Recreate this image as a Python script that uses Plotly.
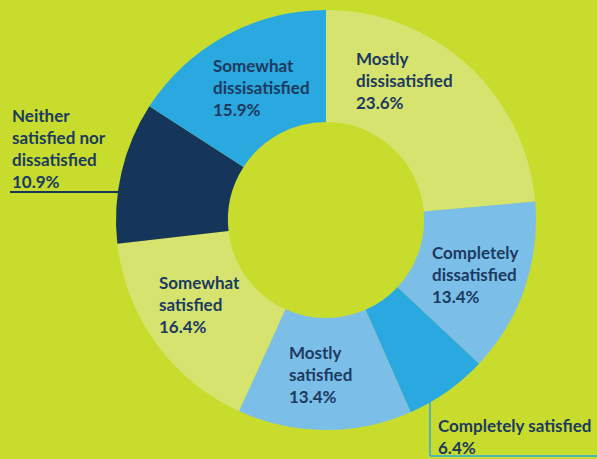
import plotly.graph_objects as go

# ---- data ----
categories = [
    "Mostly dissisatisfied",
    "Completely dissatisfied",
    "Completely satisfied",
    "Mostly satisfied",
    "Somewhat satisfied",
    "Neither satisfied nor dissatisfied",
    "Somewhat dissisatisfied",
]
values = [23.6, 13.4, 6.4, 13.4, 16.4, 10.9, 15.9]
label_lines = [
    ["Mostly", "dissisatisfied"],
    ["Completely", "dissatisfied"],
    ["Completely satisfied"],
    ["Mostly", "satisfied"],
    ["Somewhat", "satisfied"],
    ["Neither", "satisfied nor", "dissatisfied"],
    ["Somewhat", "dissisatisfied"],
]

# ---- styling ----
W, H = 597, 459
BG = "#c8dc2d"
YG = "#d6e36f"
LB = "#7bbfe9"
BL = "#2aa8e0"
NV = "#16355b"
TXT = "#1c3a5f"
colors = [YG, LB, BL, LB, YG, NV, BL]

# label anchor positions in pixels (left, top)
label_pos = [
    (354, 46), (430, 240), (436, 413), (287, 340),
    (157, 270), (10, 103), (211, 53),
]

cx, cy, R = 326, 220, 210


def px(x):
    return x / W


def py(y):
    return 1 - y / H


fig = go.Figure()
fig.add_trace(go.Pie(
    labels=categories,
    values=values,
    sort=False,
    direction="clockwise",
    rotation=0,
    hole=0.467,
    marker=dict(colors=colors, line=dict(width=0)),
    textinfo="none",
    hoverinfo="label+percent",
    showlegend=False,
    domain=dict(x=[px(cx - R), px(cx + R)], y=[py(cy + R), py(cy - R)]),
))

annotations = []
for lines, v, (lx, ly) in zip(label_lines, values, label_pos):
    text = "<br>".join(lines + [f"{v:.1f}%"])
    annotations.append(dict(
        x=px(lx), y=py(ly), xref="paper", yref="paper",
        xanchor="left", yanchor="top", align="left",
        text=text, showarrow=False,
        font=dict(family="Lato", size=17, color=TXT, weight="bold"),
    ))

shapes = [
    dict(type="line", xref="paper", yref="paper",
         x0=px(10), x1=px(118), y0=py(192), y1=py(192),
         line=dict(color=NV, width=2)),
    dict(type="line", xref="paper", yref="paper",
         x0=px(430), x1=px(430), y0=py(402), y1=py(456),
         line=dict(color=BL, width=1.5)),
    dict(type="line", xref="paper", yref="paper",
         x0=px(430), x1=px(597), y0=py(456), y1=py(456),
         line=dict(color=BL, width=1.5)),
]

fig.update_layout(
    width=W, height=H,
    margin=dict(l=0, r=0, t=0, b=0),
    paper_bgcolor=BG, plot_bgcolor=BG,
    annotations=annotations,
    shapes=shapes,
)

fig.write_html(
    "out.html",
    config={"displayModeBar": False},
    post_script="document.body.style.margin='0';"
                "document.body.style.background='" + BG + "';"
                "document.body.style.overflow='hidden';",
)
